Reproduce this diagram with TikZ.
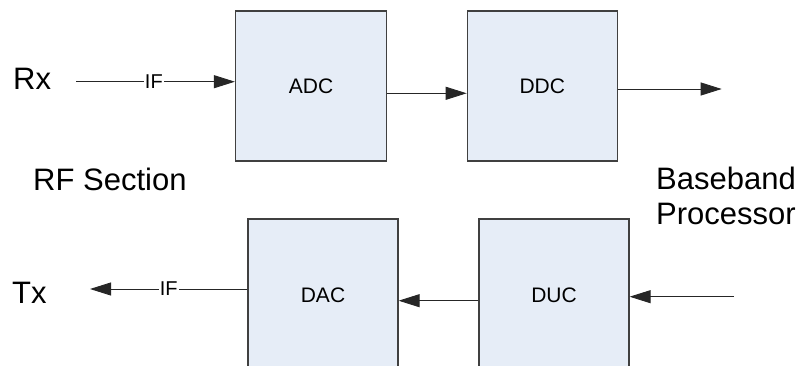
\documentclass[tikz,border=0pt]{standalone}
\usepackage{fontspec}
\setmainfont{Liberation Sans}
\usetikzlibrary{arrows.meta}
\definecolor{boxfill}{HTML}{E6EDF7}
\definecolor{boxline}{HTML}{404040}
\tikzset{
  block/.style={draw=boxline, line width=1.2pt, fill=boxfill, rectangle,
    minimum width=150pt, minimum height=150pt, inner sep=0pt,
    font=\fontsize{21}{24}\selectfont},
  sig/.style={line width=0.9pt, draw=black!85, -{Triangle[length=21pt,width=13pt]}},
  iflabel/.style={fill=white, inner sep=1pt, font=\fontsize{20}{22}\selectfont},
  bigtxt/.style={anchor=base west, inner sep=0pt, font=\fontsize{31}{34}\selectfont},
  captxt/.style={anchor=base west, inner sep=0pt, font=\fontsize{31}{36}\selectfont}
}
\begin{document}
\begin{tikzpicture}[x=1pt, y=-1pt]
  \useasboundingbox (0,0) rectangle (803,366);
  \clip (0,0) rectangle (803,366);

  % receive chain
  \node[block, minimum width=151pt] (adc) at (311,86) {ADC};
  \node[block] (ddc) at (542.3,86) {DDC};
  % transmit chain
  \node[block, minimum height=152pt] (dac) at (323,295) {DAC};
  \node[block, minimum height=152pt] (duc) at (554,295) {DUC};

  % side labels
  \node[bigtxt] (rx) at (13,89.3) {Rx};
  \node[bigtxt] (tx) at (12,303.3) {Tx};
  \node[captxt] (rf) at (33,190.7) {RF Section};
  \node[captxt] (bb) at (656,189.3) {Baseband};
  \node[captxt] (bp) at (656,225) {Processor};

  % connector end points
  \coordinate (rxin) at (76,81.7);
  \coordinate (mid1) at (0,93.3);
  \coordinate (bbout) at (721.7,89);
  \coordinate (bbin) at (734,296.7);
  \coordinate (mid2) at (0,300.7);
  \coordinate (txout) at (90,289);

  % connectors
  \draw[sig] (rxin) -- node[iflabel, pos=0.49] (if1) {IF} (rxin -| adc.west);
  \draw[sig] (mid1 -| adc.east) -- (mid1 -| ddc.west);
  \draw[sig] (bbout -| ddc.east) -- (bbout);
  \draw[sig] (bbin) -- (bbin -| duc.east);
  \draw[sig] (mid2 -| duc.west) -- (mid2 -| dac.east);
  \draw[sig] (txout -| dac.west) -- node[iflabel, pos=0.50] (if2) {IF} (txout);
\end{tikzpicture}
\end{document}
